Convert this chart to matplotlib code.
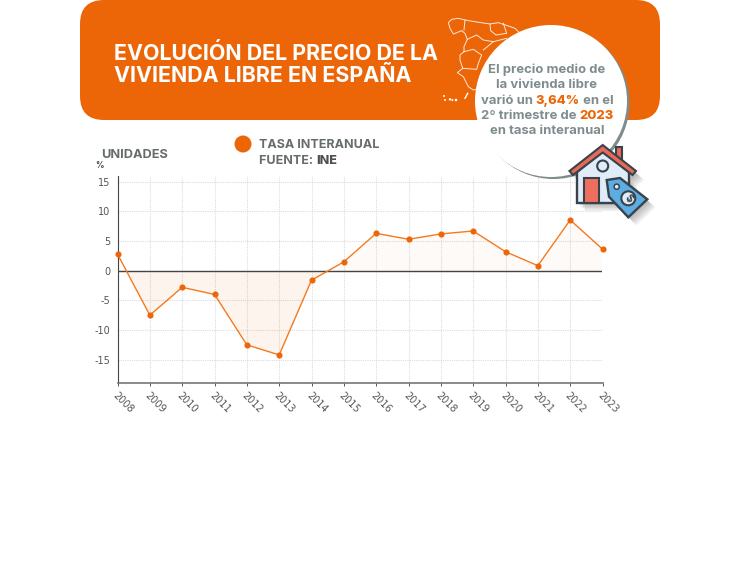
import matplotlib
matplotlib.use('Agg')
import matplotlib.pyplot as plt
from matplotlib.patches import Circle, Polygon, Rectangle, FancyBboxPatch

years = [2008, 2009, 2010, 2011, 2012, 2013, 2014, 2015, 2016, 2017, 2018, 2019, 2020, 2021, 2022, 2023]
tasa = [2.8, -7.5, -2.8, -4.0, -12.5, -14.2, -1.6, 1.5, 6.3, 5.3, 6.2, 6.7, 3.2, 0.85, 8.55, 3.64]
y_ticks = [-15, -10, -5, 0, 5, 10, 15]

title_lines = ['EVOLUCIÓN DEL PRECIO DE LA', 'VIVIENDA LIBRE EN ESPAÑA']

ORANGE = '#ec6608'
GREY = '#666b6b'
CIRCLE_GREY = '#7f8c8d'
TICK_GREY = '#555555'
W, H = 750, 565

plt.rcParams['font.family'] = ['Inter', 'DejaVu Sans']

fig = plt.figure(figsize=(W / 100, H / 100), dpi=100, facecolor='white')


def px_axes(left, top, right, bottom):
    return fig.add_axes([left / W, 1 - bottom / H, (right - left) / W, (bottom - top) / H])


def zoom_pts(pts):
    # map outline was traced on a 3x crop starting at (440, 10)
    return [(440 + x / 3, 10 + y / 3) for x, y in pts]


# background layer in pixel coordinates
bg = fig.add_axes([0, 0, 1, 1], zorder=0)
bg.set_xlim(0, W)
bg.set_ylim(H, 0)
bg.axis('off')

bg.add_patch(FancyBboxPatch((80, 0), 580, 120, boxstyle='round,pad=0,rounding_size=24',
                            fc=ORANGE, ec='none'))

for line, y in zip(title_lines, [53, 76]):
    bg.text(114, y, line, color='white', fontsize=15.4, fontweight='bold', va='center', ha='left')

# map of Spain, rough outline
map_lines = [
    [(240, 70), (225, 55), (205, 48), (175, 38), (150, 42), (110, 36), (75, 30), (55, 25), (35, 28), (25, 38),
     (30, 55), (40, 72), (65, 62), (75, 70), (82, 88), (72, 110), (72, 125), (60, 135), (60, 150), (68, 175),
     (52, 188), (70, 200), (85, 230), (100, 240), (118, 235)],
    [(75, 30), (72, 60)],
    [(82, 88), (110, 75), (130, 90), (160, 95), (200, 85)],
    [(72, 125), (100, 118), (125, 135), (115, 160), (110, 178), (68, 175)],
    [(130, 120), (160, 95)],
    [(150, 42), (152, 62), (168, 75), (200, 70), (190, 40)],
]
for seg in map_lines:
    bg.plot(*zip(*zoom_pts(seg)), color='white', lw=0.7, alpha=0.85)
for x, y, r in [(12, 258, 1.0), (15, 270, 1.0), (30, 268, 1.2), (37, 270, 1.0), (48, 270, 1.3)]:
    bg.add_patch(Circle(zoom_pts([(x, y)])[0], r, fc='white', ec='none'))
bg.plot(*zip(*zoom_pts([(75, 265), (83, 250)])), color='white', lw=1.0)

# legend and labels
bg.add_patch(Circle((243, 144), 8.5, fc=ORANGE, ec='none'))
bg.text(259, 144.5, 'TASA INTERANUAL', color=GREY, fontsize=9.0, fontweight='bold', va='center')
t = bg.text(259, 160.5, 'FUENTE: ', color=GREY, fontsize=9.0, fontweight='bold', va='center')
bg.annotate('INE', xycoords=t, xy=(1, 0), va='bottom', color='#505050', fontsize=9.0, fontweight='heavy')
bg.text(101.5, 155.5, 'UNIDADES', color=GREY, fontsize=9.2, fontweight='bold', va='center')
bg.text(99, 165.5, '%', color='#444444', fontsize=6, fontweight='bold', va='center', ha='center')

# chart
ax = px_axes(117.5, 176, 602.5, 382.5)
ax.patch.set_alpha(0)
ax.set_zorder(1)
ax.set_xlim(years[0], years[-1])
ax.set_ylim(-18.85, 15.97)
ax.grid(True, color='#dcdcdc', lw=0.8, ls=(0, (1, 1)))
ax.set_axisbelow(True)
ax.fill_between(years, tasa, 0, where=[v < 0 for v in tasa], interpolate=True, color=ORANGE, alpha=0.07, lw=0)
ax.fill_between(years, tasa, 0, where=[v >= 0 for v in tasa], interpolate=True, color=ORANGE, alpha=0.03, lw=0)
ax.axhline(0, color='#444444', lw=1.0, zorder=2)
ax.plot(years, tasa, color='#f47a20', lw=1.0, marker='o', ms=3.4, mfc=ORANGE, mec=ORANGE, clip_on=False, zorder=3)
ax.set_xticks(years)
ax.set_xticklabels(years, rotation=-45, ha='left', rotation_mode='anchor', fontsize=7, color=TICK_GREY,
                   family='DejaVu Sans')
ax.set_yticks(y_ticks)
ax.set_yticklabels(y_ticks, fontsize=7, color=TICK_GREY, family='DejaVu Sans')
ax.tick_params(axis='x', length=2.5, width=0.7, color=TICK_GREY, pad=3)
ax.tick_params(axis='y', length=0, pad=5)
for side in ['top', 'right']:
    ax.spines[side].set_visible(False)
ax.spines['left'].set_color('#444444')
ax.spines['bottom'].set_color('#777777')
ax.spines['bottom'].set_linewidth(1.2)

# overlay in pixel coordinates
top = fig.add_axes([0, 0, 1, 1], zorder=2)
top.set_xlim(0, W)
top.set_ylim(H, 0)
top.axis('off')
top.patch.set_alpha(0)

top.add_patch(Circle((553.5, 103), 76, fc=CIRCLE_GREY, ec='none'))
top.add_patch(Circle((551, 101), 76, fc='white', ec='none'))


def text_runs(runs, cx, y, size=9.4):
    renderer = fig.canvas.get_renderer()
    items = []
    total = 0
    for s, color, weight in runs:
        t = top.text(0, y, s, color=color, fontsize=size, fontweight=weight, va='center', ha='left')
        w = t.get_window_extent(renderer).width
        items.append((t, w))
        total += w
    x = cx - total / 2
    for t, w in items:
        t.set_x(x)
        x += w


text_runs([('El precio medio de', CIRCLE_GREY, 'bold')], 547, 70)
text_runs([('la vivienda libre', CIRCLE_GREY, 'bold')], 547, 85.5)
text_runs([('varió un ', CIRCLE_GREY, 'bold'), ('3,64%', ORANGE, 'heavy'), (' en el', CIRCLE_GREY, 'bold')], 547, 101)
text_runs([('2º trimestre de ', CIRCLE_GREY, 'bold'), ('2023', ORANGE, 'heavy')], 547, 116)
text_runs([('en tasa interanual', CIRCLE_GREY, 'bold')], 547, 131)

# house icon
INK = '#37424a'
CREAM = '#e0ecf8'
CORAL = '#e8695a'
house_shape = [(569, 172), (602.7, 145), (636, 172), (629, 178), (629, 203), (577, 203), (577, 178)]
tag_shape = [(606.7, 180), (620, 178), (647.3, 199.3), (628.3, 217.3), (609, 196.7)]
for off in [2, 3.5, 5, 6.5, 8]:
    for shape in [house_shape, tag_shape]:
        top.add_patch(Polygon([(x + off, y + off) for x, y in shape], closed=True, fc='#555555', ec='none', alpha=0.09))
top.add_patch(Rectangle((615.7, 147), 6.6, 15, fc=CORAL, ec=INK, lw=1.5))
top.add_patch(Polygon([(577, 172), (602.7, 151), (629, 172), (629, 203), (577, 203)], closed=True,
                      fc=CREAM, ec=INK, lw=1.7))
top.add_patch(Rectangle((584, 178), 15.3, 25, fc='#ee6f5e', ec=INK, lw=1.5))
top.add_patch(Polygon([(569.5, 171), (602.7, 145), (636, 171), (632.5, 175), (602.7, 152.5), (573, 175)], closed=True,
                      fc=CORAL, ec=INK, lw=1.5))
top.add_patch(Circle((602.7, 166), 5.5, fc=CREAM, ec=INK, lw=1.5))
top.add_patch(Polygon(tag_shape, closed=True, fc='#5dade2', ec=INK, lw=1.7))
top.add_patch(Circle((616.7, 186.7), 2.6, fc=CREAM, ec=INK, lw=1.1))
top.add_patch(Circle((628.3, 198.3), 7, fc=CREAM, ec=INK, lw=1.5))
top.text(628.3, 198.3, '$', color=INK, fontsize=7.5, fontweight='bold', ha='center', va='center', rotation=-45)

fig.savefig('out.png', dpi=100, facecolor='white')
